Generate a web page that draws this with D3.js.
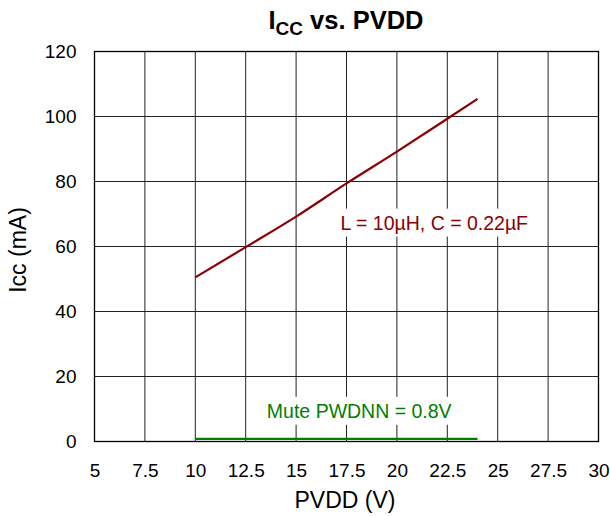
<!DOCTYPE html>
<html><head><meta charset="utf-8">
<script src="https://cdn.jsdelivr.net/npm/d3@7"></script>
<style>body{margin:0;background:#fff}svg{display:block}text{font-family:"Liberation Sans",Arial,sans-serif}</style>
</head><body>
<svg id="c" width="610" height="516"></svg>
<script>
const xTicks = [5,7.5,10,12.5,15,17.5,20,22.5,25,27.5,30];
const yTicks = [0,20,40,60,80,100,120];
const pvdd = [10,12.5,15,17.5,20,22.5,24];
const iccActive = [50.5,59.8,69.2,79.4,89.2,99.3,105.4];
const muteX = [10,24];
const iccMute = [0.8,0.8];
const activeLabel = "L = 10µH, C = 0.22µF";
const muteLabel = "Mute PWDNN = 0.8V";

const svg = d3.select("#c");
const m = {l:94.5, r:598.5, t:51.5, b:441.5};
const x = d3.scaleLinear().domain([5,30]).range([m.l,m.r]);
const y = d3.scaleLinear().domain([0,120]).range([m.b,m.t]);

// grid
const g = svg.append("g");
g.selectAll("line.v").data(xTicks).join("line")
 .attr("x1",d=>x(d)).attr("x2",d=>x(d)).attr("y1",m.t).attr("y2",m.b)
 .attr("stroke","#222").attr("stroke-width",1);
g.selectAll("line.h").data(yTicks).join("line")
 .attr("y1",d=>y(d)).attr("y2",d=>y(d)).attr("x1",m.l).attr("x2",m.r)
 .attr("stroke","#222").attr("stroke-width",1);

// labels with white backgrounds
const labels = [
 {t:activeLabel, x:17.2, yv:67.3, c:"#8b0000"},
 {t:muteLabel, x:13.55, yv:9.4, c:"#008000"}
];
const lg = svg.append("g");
labels.forEach(L=>{
  const t = lg.append("text").attr("x",x(L.x)).attr("y",y(L.yv)).attr("dy","0.35em")
   .attr("font-size",19.5).attr("fill",L.c).text(L.t);
  const bb = t.node().getBBox();
  lg.insert("rect","text").attr("x",bb.x-2).attr("y",bb.y-3).attr("width",bb.width+4).attr("height",bb.height+6).attr("fill","#fff");
});

// frame
svg.append("rect").attr("x",m.l).attr("y",m.t).attr("width",m.r-m.l).attr("height",m.b-m.t)
 .attr("fill","none").attr("stroke","#000").attr("stroke-width",1.3);

// axes
const xa = svg.append("g").attr("transform",`translate(0,${m.b})`)
 .call(d3.axisBottom(x).tickValues(xTicks).tickSize(0).tickPadding(22).tickFormat(d3.format("")));
const ya = svg.append("g").attr("transform",`translate(${m.l},0)`)
 .call(d3.axisLeft(y).tickValues(yTicks).tickSize(0).tickPadding(18).tickFormat(d3.format("")));
[xa,ya].forEach(a=>{a.select(".domain").remove();a.selectAll("text").attr("font-size",19).attr("fill","#000").style("font-family","'Liberation Sans',Arial,sans-serif");});

// lines
const line = d3.line().x(d=>x(d[0])).y(d=>y(d[1])).curve(d3.curveMonotoneX);
svg.append("path").datum(pvdd.map((v,i)=>[v,iccActive[i]])).attr("d",line)
 .attr("fill","none").attr("stroke","#8b0000").attr("stroke-width",2.2);
svg.append("path").datum(muteX.map((v,i)=>[v,iccMute[i]])).attr("d",line)
 .attr("fill","none").attr("stroke","#008000").attr("stroke-width",2.2);

// title
const tt = svg.append("text").attr("x",346).attr("y",29).attr("text-anchor","middle")
 .attr("font-size",25.5).attr("font-weight","bold").attr("fill","#000");
tt.append("tspan").text("I");
tt.append("tspan").attr("font-size",19).attr("dy",6).text("CC");
tt.append("tspan").attr("dy",-6).text(" vs. PVDD");

// axis titles
svg.append("text").attr("x",345).attr("y",508).attr("text-anchor","middle").attr("font-size",23).text("PVDD (V)");
svg.append("text").attr("transform","translate(26,250) rotate(-90)").attr("text-anchor","middle").attr("font-size",23).text("Icc (mA)");
</script>
</body></html>
